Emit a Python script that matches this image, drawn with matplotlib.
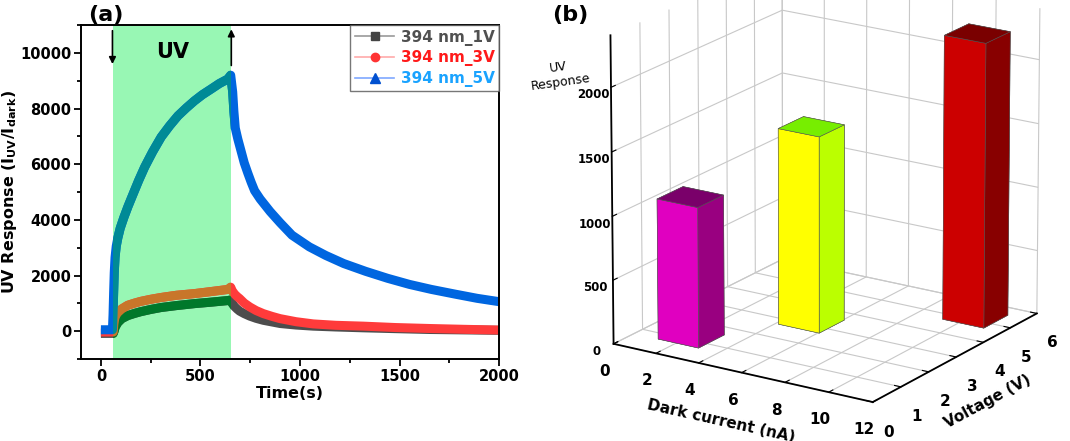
import numpy as np
import matplotlib
matplotlib.use("Agg")
import matplotlib.pyplot as plt
from matplotlib.lines import Line2D

plt.rcParams["font.family"] = ["DejaVu Sans"]
plt.rcParams["font.weight"] = "bold"
plt.rcParams["axes.labelweight"] = "bold"

# ---- (a) transient UV response at 394 nm ----
t_1v = [0, 62, 66, 72, 85, 105, 135, 170, 200, 250, 302, 380, 470, 550, 638, 652,
        660, 672, 685, 697, 720, 748, 780, 816, 860, 900, 980, 1067, 1180, 1318, 1480, 1653, 1830, 2000]
r_1v = [-80, -80, 0, 150, 310, 450, 560, 640, 700, 780, 850, 920, 990, 1040, 1100, 1120,
        1000, 880, 790, 720, 630, 540, 460, 390, 330, 275, 220, 180, 150, 120, 90, 60, 45, 30]

t_3v = [0, 62, 65, 70, 78, 85, 105, 135, 170, 200, 250, 302, 380, 470, 550, 638, 652,
        660, 672, 685, 697, 720, 748, 780, 816, 860, 900, 980, 1067, 1180, 1318, 1480, 1653, 1830, 2000]
r_3v = [-30, -30, 250, 480, 600, 670, 800, 930, 1010, 1070, 1145, 1210, 1290, 1350, 1420, 1500, 1580,
        1450, 1330, 1240, 1170, 1010, 870, 740, 630, 530, 450, 340, 260, 210, 180, 130, 95, 65, 40]

t_5v = [0, 58, 61, 64, 67, 71, 77, 85, 97, 115, 136, 160, 190, 220, 260, 303, 345, 387, 430, 470,
        510, 553, 595, 637, 652,
        662, 668, 675, 688, 705, 720, 738, 755, 772, 800, 850, 900, 960, 1047, 1130, 1220,
        1330, 1440, 1550, 1660, 1780, 1890, 2000]
r_5v = [50, 50, 600, 1400, 2100, 2650, 3050, 3350, 3700, 4080, 4480, 4900, 5420, 5900, 6450, 6980,
        7380, 7740, 8030, 8280, 8500, 8700, 8900, 9060, 9200,
        8600, 7900, 7300, 6900, 6450, 6050, 5680, 5350, 5050, 4750, 4300, 3900, 3450, 3030, 2720,
        2430, 2150, 1900, 1680, 1500, 1330, 1180, 1060]

uv_on, uv_off = 63, 655
series_labels = ["394 nm_1V", "394 nm_3V", "394 nm_5V"]

# ---- (b) UV response vs dark current and bias ----
dark_current = [2.1, 5.1, 10.2]     # nA
voltage = [1, 3, 5]                 # V
uv_response = [1100, 1540, 2230]

fig = plt.figure(figsize=(10.70, 4.41), dpi=100)

ax = fig.add_axes([0.0757, 0.186, 0.3907, 0.757])
span = ax.axvspan(uv_on, uv_off, color="#98f7b4", lw=0, zorder=1)

base_cols = ["#4d4d4d", "#ff3b3b", "#0066e0"]
uv_cols = ["#00782a", "#c8762a", "#008a96"]
for (t, r), c, cu in zip([(t_1v, r_1v), (t_3v, r_3v), (t_5v, r_5v)], base_cols, uv_cols):
    ax.plot(t, r, color=c, lw=6.5, solid_capstyle="butt", solid_joinstyle="round", zorder=2)
    ln, = ax.plot(t, r, color=cu, lw=6.5, solid_capstyle="butt", solid_joinstyle="round", zorder=3)
    ln.set_clip_path(span)

ax.set_xlim(-100, 2000)
ax.set_ylim(-1000, 11000)
ax.set_xticks(np.arange(0, 2001, 500))
ax.set_xticks(np.arange(0, 2001, 250), minor=True)
ax.set_yticks(np.arange(0, 10001, 2000))
ax.set_yticks(np.arange(-1000, 11001, 1000), minor=True)
ax.tick_params(which="both", direction="out", width=1.3)
ax.tick_params(which="major", length=5, labelsize=10.5, pad=2)
ax.tick_params(which="minor", length=3)
for s in ax.spines.values():
    s.set_linewidth(1.4)
ax.set_xlabel("Time(s)", fontsize=11.5, labelpad=2)
ax.set_ylabel(r"UV Response (I$_{\mathbf{UV}}$/I$_{\mathbf{dark}}$)", fontsize=11.5, labelpad=1)

ax.annotate("", xy=(58, 9500), xytext=(58, 10900),
            arrowprops=dict(arrowstyle="-|>", color="black", lw=1.2, mutation_scale=10))
ax.annotate("", xy=(uv_off, 10950), xytext=(uv_off, 9450),
            arrowprops=dict(arrowstyle="-|>", color="black", lw=1.2, mutation_scale=10))
ax.text(360, 10050, "UV", fontsize=15, ha="center", va="center")

handles = [
    Line2D([], [], color="#9a9a9a", lw=1.2, marker="s", ms=6, mfc="#444444", mec="#444444"),
    Line2D([], [], color="#ffaaaa", lw=1.2, marker="o", ms=6, mfc="#ff3333", mec="#ff3333"),
    Line2D([], [], color="#7fa8ff", lw=1.2, marker="^", ms=7, mfc="#0050d0", mec="#0050d0"),
]
leg = ax.legend(handles, series_labels, loc="upper right", borderaxespad=0, fontsize=11,
                handlelength=2.6, frameon=True, fancybox=False, edgecolor="#555555",
                borderpad=0.3, labelspacing=0.3, handletextpad=0.4)
leg.get_frame().set_linewidth(1.0)
for txt, c in zip(leg.get_texts(), ["#505050", "#ff1a1a", "#1aa3ff"]):
    txt.set_color(c)

fig.text(0.082, 0.988, "(a)", fontsize=16, fontweight="bold", va="top")
fig.text(0.516, 0.988, "(b)", fontsize=16, fontweight="bold", va="top")

# ---- 3D bars ----
plt.rcParams["grid.color"] = "#c8c8c8"
plt.rcParams["grid.linewidth"] = 0.8
ax3 = fig.add_axes([0.5195, -0.0132, 0.4925, 1.195], projection="3d")
ax3.set_proj_type("persp", focal_length=2.5)
ax3.view_init(elev=18.5, azim=-57)
ax3.set_box_aspect((1, 1, 1.05))

dx, dy = 1.9, 0.9
x0 = np.array(dark_current) - dx / 2
y0 = np.array(voltage) - 0.3
# faces per bar: -z, +z, -y, +y, -x, +x
face_cols = [
    ["#7a006a", "#7a006a", "#e000c0", "#990080", "#e000c0", "#990080"],
    ["#77ee00", "#77ee00", "#ffff00", "#bbff00", "#ffff00", "#bbff00"],
    ["#7a0000", "#7a0000", "#cc0000", "#880000", "#cc0000", "#880000"],
]
for i in range(len(dark_current)):
    ax3.bar3d(x0[i], y0[i], 0, dx, dy, uv_response[i], color=face_cols[i],
              shade=False, edgecolor="#555555", linewidth=0.4)

ax3.set_xlim(0, 12)
ax3.set_ylim(0, 6)
ax3.set_zlim(0, 2400)
ax3.set_xticks(np.arange(0, 13, 2))
ax3.set_yticks(np.arange(0, 7, 1))
ax3.set_zticks(np.arange(0, 2001, 500))
ax3.tick_params(axis="x", labelsize=11, pad=2)
ax3.tick_params(axis="y", labelsize=11, pad=4)
ax3.tick_params(axis="z", labelsize=8.5, pad=0)
ax3.zaxis.set_ticks_position("lower")
ax3.set_xlabel("Dark current (nA)", fontsize=11, labelpad=3)
ax3.set_ylabel("Voltage (V)", fontsize=11, labelpad=3)
ax3.set_zlabel("")
for a in (ax3.xaxis, ax3.yaxis, ax3.zaxis):
    a.set_pane_color((1, 1, 1, 0))
    a.pane.set_edgecolor("#b0b0b0")
    a.line.set_color("black")
    a.line.set_linewidth(1.3)
    a._axinfo["tick"]["inward_factor"] = 0.0
    a._axinfo["tick"]["outward_factor"] = 0.3
ax3.text2D(0.523, 0.83, "UV\nResponse", transform=fig.transFigure, fontsize=9,
           fontweight="normal", ha="center", va="center", rotation=8, multialignment="center")

fig.savefig("out.png", dpi=100)
